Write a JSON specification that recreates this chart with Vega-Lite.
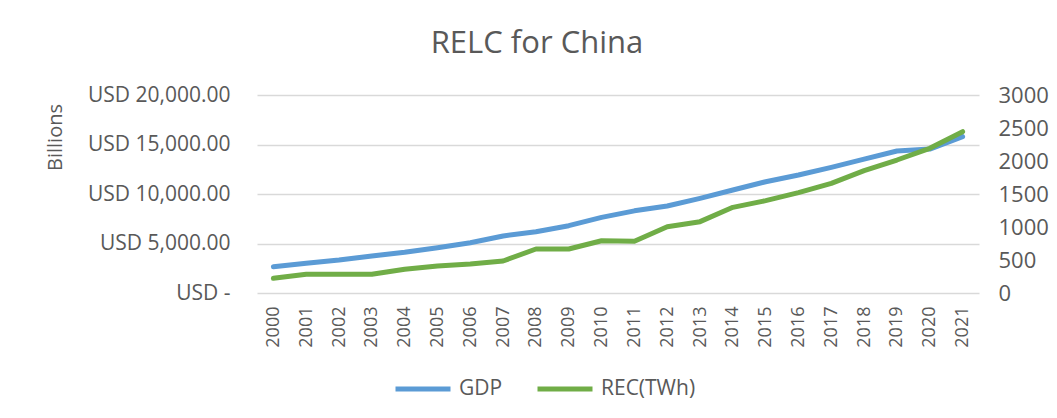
{
  "$schema": "https://vega.github.io/schema/vega-lite/v6.json",
  "width": 722,
  "height": 198,
  "autosize": {"type": "none"},
  "padding": {"left": 257, "top": 95, "right": 78, "bottom": 125},
  "background": "white",
  "config": {"view": {"stroke": null}, "font": "Open Sans"},
  "title": {
    "text": "RELC for China",
    "fontSize": 31,
    "fontWeight": "normal",
    "color": "#595959",
    "anchor": "middle",
    "frame": "group",
    "baseline": "alphabetic",
    "offset": 0,
    "dx": -81
  },
  "data": {
    "values": [
      {"year": "2000", "gdp": 2660, "rec": 222},
      {"year": "2001", "gdp": 3000, "rec": 283},
      {"year": "2002", "gdp": 3330, "rec": 283},
      {"year": "2003", "gdp": 3740, "rec": 283},
      {"year": "2004", "gdp": 4110, "rec": 359},
      {"year": "2005", "gdp": 4580, "rec": 409},
      {"year": "2006", "gdp": 5080, "rec": 439},
      {"year": "2007", "gdp": 5760, "rec": 485},
      {"year": "2008", "gdp": 6190, "rec": 667},
      {"year": "2009", "gdp": 6800, "rec": 667},
      {"year": "2010", "gdp": 7640, "rec": 792},
      {"year": "2011", "gdp": 8300, "rec": 785},
      {"year": "2012", "gdp": 8790, "rec": 1005},
      {"year": "2013", "gdp": 9560, "rec": 1081},
      {"year": "2014", "gdp": 10400, "rec": 1298},
      {"year": "2015", "gdp": 11240, "rec": 1399},
      {"year": "2016", "gdp": 11920, "rec": 1520},
      {"year": "2017", "gdp": 12690, "rec": 1661},
      {"year": "2018", "gdp": 13530, "rec": 1853},
      {"year": "2019", "gdp": 14340, "rec": 2015},
      {"year": "2020", "gdp": 14540, "rec": 2192},
      {"year": "2021", "gdp": 15790, "rec": 2444}
    ]
  },
  "encoding": {
    "x": {
      "field": "year",
      "type": "ordinal",
      "scale": {"type": "point", "padding": 0.5},
      "axis": {
        "title": null,
        "labelAngle": -90,
        "labelFontSize": 18,
        "labelColor": "#595959",
        "labelPadding": 13,
        "domain": false,
        "ticks": false,
        "grid": false
      }
    }
  },
  "layer": [
    {
      "mark": {"type": "line", "strokeWidth": 5, "strokeCap": "round", "strokeJoin": "round"},
      "encoding": {
        "y": {
          "field": "gdp",
          "type": "quantitative",
          "scale": {"domain": [0, 20000]},
          "axis": {
            "values": [0, 5000, 10000, 15000, 20000],
            "labelExpr": "datum.value == 0 ? 'USD -' : 'USD ' + format(datum.value, ',.2f')",
            "grid": true,
            "gridColor": "#d9d9d9",
            "gridWidth": 1.5,
            "domain": false,
            "ticks": false,
            "labelPadding": 27,
            "labelFontSize": 21,
            "labelColor": "#595959",
            "title": "Billions",
            "titleFontSize": 20,
            "titleFontWeight": "normal",
            "titleColor": "#595959",
            "titleX": -202,
            "titleY": 42,
            "titleAngle": 270,
            "titleAlign": "center",
            "titleBaseline": "middle"
          }
        },
        "color": {
          "datum": "GDP",
          "type": "nominal",
          "scale": {"domain": ["GDP", "REC(TWh)"], "range": ["#5B9BD5", "#70AD47"]},
          "legend": {
            "title": null,
            "orient": "none",
            "direction": "horizontal",
            "legendX": 136,
            "legendY": 264,
            "symbolType": "stroke",
            "symbolSize": 3025,
            "symbolStrokeWidth": 5,
            "labelFontSize": 21,
            "labelColor": "#595959",
            "labelOffset": 6,
            "columnPadding": 24
          }
        }
      }
    },
    {
      "mark": {"type": "line", "strokeWidth": 5, "strokeCap": "round", "strokeJoin": "round"},
      "encoding": {
        "y": {
          "field": "rec",
          "type": "quantitative",
          "scale": {"domain": [0, 3000]},
          "axis": {
            "orient": "right",
            "values": [0, 500, 1000, 1500, 2000, 2500, 3000],
            "format": "d",
            "grid": false,
            "domain": false,
            "ticks": false,
            "labelPadding": 19,
            "labelFontSize": 22,
            "labelColor": "#595959",
            "title": null
          }
        },
        "color": {"datum": "REC(TWh)", "type": "nominal"}
      }
    }
  ],
  "resolve": {"scale": {"y": "independent"}}
}
